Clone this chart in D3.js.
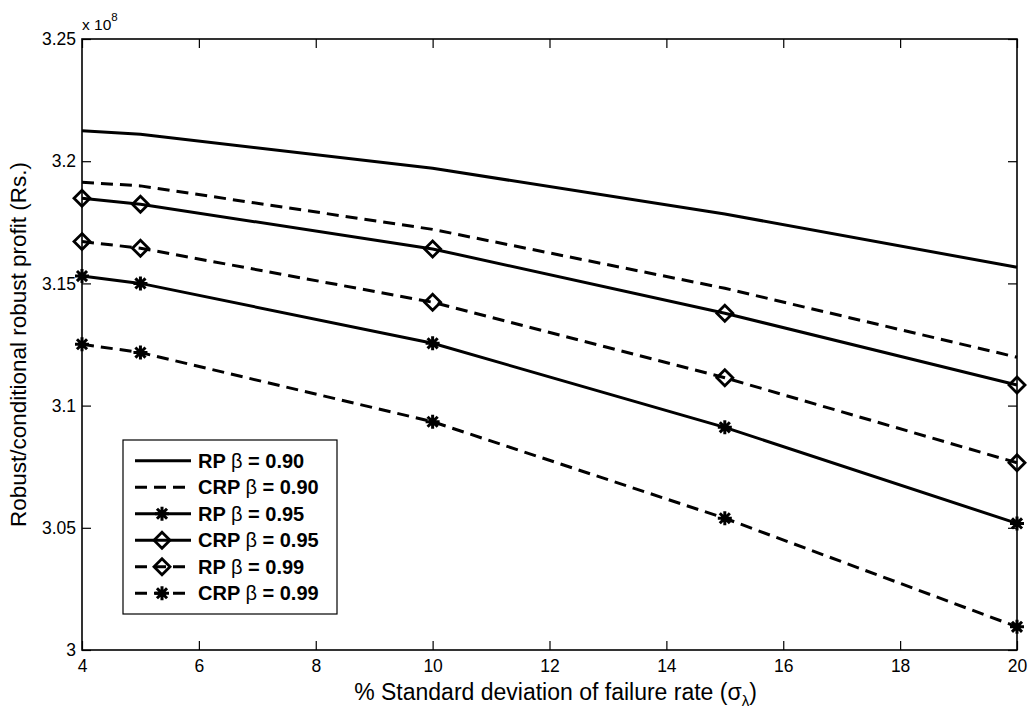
<!DOCTYPE html>
<html>
<head>
<meta charset="utf-8">
<script src="https://cdn.jsdelivr.net/npm/d3@7"></script>
<style>
  html, body { margin: 0; padding: 0; background: #fff; }
  svg { display: block; }
  text { font-family: "Liberation Sans", Arial, Helvetica, sans-serif; fill: #000; }
</style>
</head>
<body>
<svg id="chart" width="1032" height="719"></svg>
<script>
// Standard deviation of failure rate (%)
const sigma = [4, 5, 10, 15, 20];

// Robust / conditional robust profit, in units of 1e8 Rs.
const rp090  = [3.2125, 3.2110, 3.1971, 3.1784, 3.1566];
const crp090 = [3.1914, 3.1899, 3.1721, 3.1480, 3.1198];
const rp095  = [3.1530, 3.1500, 3.1255, 3.0911, 3.0518];
const crp095 = [3.1848, 3.1824, 3.1641, 3.1378, 3.1084];
const rp099  = [3.1671, 3.1644, 3.1423, 3.1114, 3.0766];
const crp099 = [3.1251, 3.1217, 3.0934, 3.0539, 3.0095];

const seriesNames = ["RP", "CRP", "RP", "CRP", "RP", "CRP"];
const seriesBetas = ["0.90", "0.90", "0.95", "0.95", "0.99", "0.99"];

const xTicks = [4, 6, 8, 10, 12, 14, 16, 18, 20];
const yTicks = [3, 3.05, 3.1, 3.15, 3.2, 3.25];
const yTickLabels = ["3", "3.05", "3.1", "3.15", "3.2", "3.25"];

const series = [
  { values: rp090,  dashed: false, marker: null },
  { values: crp090, dashed: true,  marker: null },
  { values: rp095,  dashed: false, marker: "star" },
  { values: crp095, dashed: false, marker: "diamond" },
  { values: rp099,  dashed: true,  marker: "diamond" },
  { values: crp099, dashed: true,  marker: "star" }
].map((s, i) => ({ ...s, name: seriesNames[i], beta: seriesBetas[i] }));

const svg = d3.select("#chart");
const box = { left: 82, right: 1017, top: 39, bottom: 650 };

const x = d3.scaleLinear().domain([4, 20]).range([box.left, box.right]);
const y = d3.scaleLinear().domain([3, 3.25]).range([box.bottom, box.top]);

const DASH = "12,7";
const LW = 3;

// marker shapes
function markerPath(type) {
  if (type === "diamond") {
    const r = 8;
    return `M0,${-r}L${r},0L0,${r}L${-r},0Z`;
  }
  const r = 7, d = r * 0.72;
  return `M${-r},0H${r}M0,${-r}V${r}M${-d},${-d}L${d},${d}M${-d},${d}L${d},${-d}`;
}

// axes: ticks point inward on all four sides
const tickFont = 17.5;
const gx = svg.append("g").attr("transform", `translate(0,${box.bottom})`)
  .call(d3.axisBottom(x).tickValues(xTicks).tickSize(-9).tickPadding(10).tickFormat(d3.format("d")));
const gxt = svg.append("g").attr("transform", `translate(0,${box.top})`)
  .call(d3.axisTop(x).tickValues(xTicks).tickSize(-9).tickFormat(""));
const gy = svg.append("g").attr("transform", `translate(${box.left},0)`)
  .call(d3.axisLeft(y).tickValues(yTicks).tickSize(-9).tickPadding(6)
    .tickFormat((d, i) => yTickLabels[i]));
const gyr = svg.append("g").attr("transform", `translate(${box.right},0)`)
  .call(d3.axisRight(y).tickValues(yTicks).tickSize(-9).tickFormat(""));

[gx, gxt, gy, gyr].forEach(g => {
  g.select(".domain").remove();
  g.selectAll(".tick line").attr("stroke", "#000").attr("stroke-width", 1.2);
  g.selectAll(".tick text").attr("font-size", tickFont)
    .attr("font-family", "Liberation Sans, Arial, sans-serif").attr("fill", "#000");
});

// plot box
svg.append("rect")
  .attr("x", box.left).attr("y", box.top)
  .attr("width", box.right - box.left).attr("height", box.bottom - box.top)
  .attr("fill", "none").attr("stroke", "#000").attr("stroke-width", 1.6);

// exponent label
const expo = svg.append("text").attr("x", box.left).attr("y", 30).attr("font-size", 15.5);
expo.append("tspan").text("x 10");
expo.append("tspan").attr("font-size", 11.5).attr("dy", -9).text("8");

// data lines
const line = d3.line().x((d, i) => x(sigma[i])).y(d => y(d));
const plot = svg.append("g");
series.forEach(s => {
  plot.append("path")
    .attr("d", line(s.values))
    .attr("fill", "none")
    .attr("stroke", "#000")
    .attr("stroke-width", LW)
    .attr("stroke-dasharray", s.dashed ? DASH : null);
  if (s.marker) {
    plot.selectAll(null).data(s.values).enter().append("path")
      .attr("transform", (d, i) => `translate(${x(sigma[i])},${y(d)})`)
      .attr("d", markerPath(s.marker))
      .attr("fill", "none")
      .attr("stroke", "#000")
      .attr("stroke-width", s.marker === "star" ? 3 : 2.8);
  }
});

// axis titles
const xl = svg.append("text")
  .attr("x", (box.left + box.right) / 2 + 6).attr("y", 700)
  .attr("text-anchor", "middle").attr("font-size", 23);
xl.append("tspan").text("% Standard deviation of failure rate (σ");
xl.append("tspan").attr("font-size", 15).attr("dy", 6).text("λ");
xl.append("tspan").attr("dy", -6).text(")");

svg.append("text")
  .attr("transform", `translate(26,${(box.top + box.bottom) / 2}) rotate(-90)`)
  .attr("text-anchor", "middle").attr("font-size", 22.5)
  .text("Robust/conditional robust profit (Rs.)");

// legend
const leg = { x: 123, y: 440, w: 214, h: 174, rowStep: 26.5 };
const row0 = leg.y + leg.h / 2 - 2.5 * leg.rowStep;
const lg = svg.append("g");
lg.append("rect")
  .attr("x", leg.x).attr("y", leg.y).attr("width", leg.w).attr("height", leg.h)
  .attr("fill", "#fff").attr("stroke", "#000").attr("stroke-width", 1.2);

series.forEach((s, i) => {
  const cy = row0 + i * leg.rowStep;
  lg.append("line")
    .attr("x1", 135).attr("x2", 191).attr("y1", cy).attr("y2", cy)
    .attr("stroke", "#000").attr("stroke-width", LW)
    .attr("stroke-dasharray", s.dashed ? DASH : null);
  if (s.marker) {
    lg.append("path")
      .attr("transform", `translate(162,${cy})`)
      .attr("d", markerPath(s.marker))
      .attr("fill", "none").attr("stroke", "#000")
      .attr("stroke-width", s.marker === "star" ? 3 : 2.8);
  }
  const t = lg.append("text").attr("x", 198).attr("y", cy + 7)
    .attr("font-size", 20).attr("font-weight", "bold");
  t.append("tspan").text(s.name + " ");
  t.append("tspan").attr("font-weight", "normal").text("β");
  t.append("tspan").text(" = " + s.beta);
});
</script>
</body>
</html>
